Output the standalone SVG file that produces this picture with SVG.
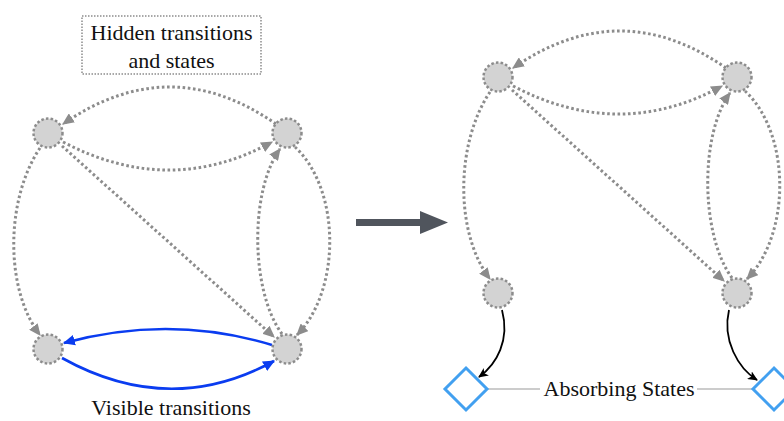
<svg xmlns="http://www.w3.org/2000/svg" width="784" height="421" viewBox="0 0 784 421">
<style>
.node{fill:#d3d3d3;stroke:#8c8c8c;stroke-width:2.5;stroke-dasharray:2.5 2.2}
.hid{fill:none;stroke:#8c8c8c;stroke-width:3;stroke-dasharray:2.6 2.6;marker-end:url(#ag)}
.vis{fill:none;stroke:#0a3cf0;stroke-width:2.6;marker-end:url(#ab)}
.abs{fill:none;stroke:#000;stroke-width:1.8;marker-end:url(#ak)}
.dia{fill:#fff;stroke:#42a0f0;stroke-width:3}
.lbl{font-family:"Liberation Serif","DejaVu Serif",serif;font-size:22px;fill:#111}
</style>
<defs>
<marker id="ag" viewBox="0 0 10 9" refX="9" refY="4.5" markerWidth="12" markerHeight="11" markerUnits="userSpaceOnUse" orient="auto"><path d="M0,0 L10,4.5 L0,9 z" fill="#8c8c8c"/></marker>
<marker id="ab" viewBox="0 0 10 9" refX="9" refY="4.5" markerWidth="12" markerHeight="11" markerUnits="userSpaceOnUse" orient="auto"><path d="M0,0 L10,4.5 L0,9 z" fill="#0a3cf0"/></marker>
<marker id="ak" viewBox="0 0 10 9" refX="9" refY="4.5" markerWidth="10" markerHeight="9" markerUnits="userSpaceOnUse" orient="auto"><path d="M0,0 L10,4.5 L0,9 L2.5,4.5 z" fill="#000"/></marker>
</defs>
<rect width="784" height="421" fill="#fff"/>

<g id="hidden-label">
<rect x="82" y="16" width="179" height="58" fill="none" stroke="#8c8c8c" stroke-width="1.5" stroke-dasharray="1.5 1.5"/>
<text class="lbl" x="171.5" y="39.5" text-anchor="middle">Hidden transitions</text>
<text class="lbl" x="171.5" y="68" text-anchor="middle">and states</text>
</g>

<g id="connectors">
<g id="left-edges">
<path class="hid" d="M276,124 Q170,50 63,124"/>
<path class="hid" d="M63,142 Q170,198 272,142"/>
<path class="hid" d="M40,148 C5,200 5,290 40,335"/>
<path class="hid" d="M62,146 L274,337"/>
<path class="hid" d="M282,334 C250,290 250,190 280,149"/>
<path class="hid" d="M295,147 C341,190 341,290 297,335"/>
<path class="vis" d="M272,345 Q170,314 64,343"/>
<path class="vis" d="M62,358 Q170,418 274,361"/>
</g>
<g id="right-edges" transform="translate(450,-56)">
<path class="hid" d="M276,124 Q170,50 63,124"/>
<path class="hid" d="M63,142 Q170,198 272,142"/>
<path class="hid" d="M40,148 C5,200 5,290 40,335"/>
<path class="hid" d="M62,146 L274,337"/>
<path class="hid" d="M282,334 C250,290 250,190 280,149"/>
<path class="hid" d="M295,147 C341,190 341,290 297,335"/>
</g>
<path class="abs" d="M502,310 C510,340 497,364 479,377"/>
<path class="abs" d="M729,310 C722,340 738,368 757,380"/>
<path d="M487,389 H540 M697,389 H752" stroke="#999" stroke-width="1.2"/>
<path id="big-arrow" d="M356,219 H420 V211 L448,222.5 L420,234 V226 H356 z" fill="#50555d"/>
</g>

<g id="L-TL"><circle class="node" cx="48" cy="133" r="14.5"/></g>
<g id="L-TR"><circle class="node" cx="287" cy="133" r="14.5"/></g>
<g id="L-BL"><circle class="node" cx="48" cy="349" r="14.5"/></g>
<g id="L-BR"><circle class="node" cx="287" cy="349" r="14.5"/></g>
<g id="R-TL"><circle class="node" cx="498" cy="77" r="14.5"/></g>
<g id="R-TR"><circle class="node" cx="737" cy="77" r="14.5"/></g>
<g id="R-BL"><circle class="node" cx="498" cy="293" r="14.5"/></g>
<g id="R-BR"><circle class="node" cx="737" cy="293" r="14.5"/></g>

<g id="absorb-left"><path class="dia" d="M466,368 L487,389 L466,410 L445,389 z"/></g>
<g id="absorb-right"><path class="dia" d="M774,368 L795,389 L774,410 L753,389 z"/></g>

<text class="lbl" x="619" y="396" text-anchor="middle">Absorbing States</text>
<text class="lbl" x="171" y="415" text-anchor="middle">Visible transitions</text>
</svg>
